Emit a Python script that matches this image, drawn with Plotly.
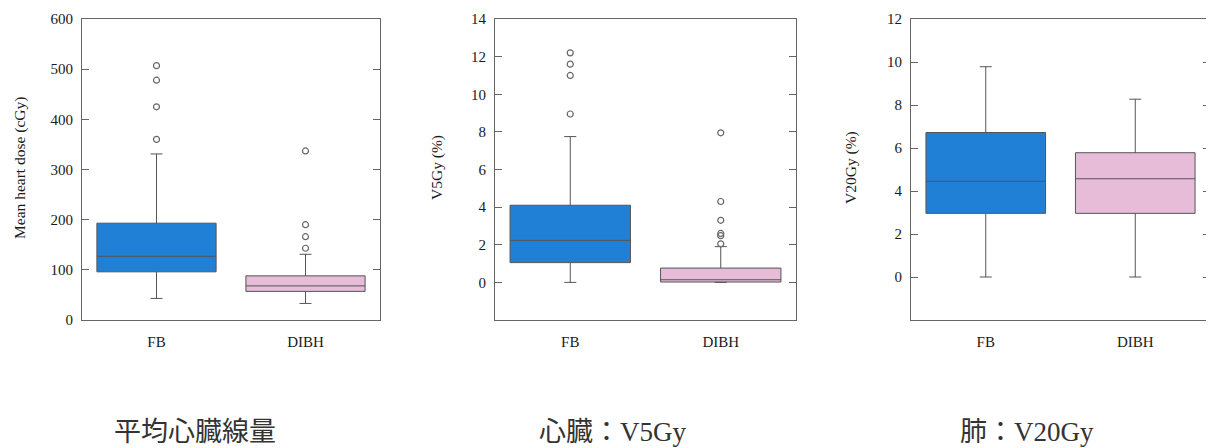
import plotly.graph_objects as go

# page body has 8px default margin; figure drawn inside it
OFF = 8
W, H = 1214 - OFF, 448 - OFF

categories = ["FB", "DIBH"]

# Panel 1: Mean heart dose (cGy)
mhd_q1 = [96, 57]
mhd_median = [127, 68]
mhd_q3 = [193, 88]
mhd_low = [43, 33]
mhd_up = [331, 131]
mhd_out_fb = [507, 478, 425, 360]
mhd_out_dibh = [337, 190, 166, 143]

# Panel 2: Heart V5Gy (%)
v5_q1 = [1.05, 0.02]
v5_median = [2.23, 0.14]
v5_q3 = [4.1, 0.76]
v5_low = [0.0, 0.0]
v5_up = [7.75, 1.9]
v5_out_fb = [12.2, 11.6, 11.0, 8.95]
v5_out_dibh = [7.95, 4.3, 3.3, 2.6, 2.48, 2.05]

# Panel 3: Lung V20Gy (%)
v20_q1 = [2.96, 2.96]
v20_median = [4.45, 4.57]
v20_q3 = [6.72, 5.78]
v20_low = [0.0, 0.0]
v20_up = [9.78, 8.27]

fills = ["#1f80d6", "#e6bcd8"]
ytitles = ["Mean heart dose (cGy)", "V5Gy (%)", "V20Gy (%)"]
captions = ["平均心臓線量", "心臓：V5Gy", "肺：V20Gy"]
yranges = [[0, 600], [-2, 14], [-2, 12]]
ytickvals = [[0, 100, 200, 300, 400, 500, 600],
             [0, 2, 4, 6, 8, 10, 12, 14],
             [0, 2, 4, 6, 8, 10, 12]]

panels = [
    (mhd_q1, mhd_median, mhd_q3, mhd_low, mhd_up, [mhd_out_fb, mhd_out_dibh]),
    (v5_q1, v5_median, v5_q3, v5_low, v5_up, [v5_out_fb, v5_out_dibh]),
    (v20_q1, v20_median, v20_q3, v20_low, v20_up, [[], []]),
]

# target pixel positions in the window
xpix = [(82, 380), (495, 796), (911, 1210)]
ypix = (19, 320)
title_x = [20, 437, 851]
cap_x = [195, 612, 1027]


def px(x):
    return (x - OFF) / W


def py(y):
    return 1 - (y - OFF) / H


fig = go.Figure()
serif = "Liberation Serif, Times New Roman, serif"

for p, (q1, med, q3, lo, up, outs) in enumerate(panels):
    ax = "" if p == 0 else str(p + 1)
    for i, cat in enumerate(categories):
        fig.add_trace(go.Box(
            x=[cat], q1=[q1[i]], median=[med[i]], q3=[q3[i]],
            lowerfence=[lo[i]], upperfence=[up[i]],
            fillcolor=fills[i], line=dict(color="#555555", width=1),
            whiskerwidth=0.1, width=0.8, boxpoints=False,
            xaxis="x" + ax, yaxis="y" + ax, showlegend=False,
        ))
        if outs[i]:
            fig.add_trace(go.Scatter(
                x=[cat] * len(outs[i]), y=outs[i], mode="markers",
                marker=dict(symbol="circle-open", size=6, color="#666666",
                            line=dict(width=1.2)),
                xaxis="x" + ax, yaxis="y" + ax, showlegend=False,
            ))
    x0, x1 = xpix[p]
    fig.layout["xaxis" + ax] = dict(
        domain=[px(x0), px(x1)], anchor="y" + ax, automargin=False,
        type="category", categoryorder="array", categoryarray=categories,
        range=[-0.5, 1.5], showline=True, mirror=True, linecolor="#666666",
        linewidth=1, ticks="", showgrid=False, zeroline=False,
        ticklabelstandoff=8,
        tickfont=dict(family=serif, size=15, color="#1a1a1a"),
    )
    fig.layout["yaxis" + ax] = dict(
        domain=[py(ypix[1]), py(ypix[0])], anchor="x" + ax, automargin=False,
        range=yranges[p], tickvals=ytickvals[p], showline=True,
        mirror="ticks", linecolor="#666666", linewidth=1, ticks="inside",
        ticklen=7, tickcolor="#666666", showgrid=False, zeroline=False,
        ticklabelstandoff=5,
        tickfont=dict(family=serif, size=15, color="#1a1a1a"),
    )
    fig.add_annotation(
        text=ytitles[p], x=px(title_x[p]), y=py(168), xref="paper",
        yref="paper", textangle=-90, showarrow=False,
        xanchor="center", yanchor="middle",
        font=dict(family=serif, size=15.5, color="#1a1a1a"),
    )
    fig.add_annotation(
        text=captions[p], x=px(cap_x[p]), y=py(432), xref="paper",
        yref="paper", showarrow=False, xanchor="center", yanchor="middle",
        font=dict(family="Liberation Serif, Noto Sans CJK JP", size=27,
                  color="#333333"),
    )

fig.update_layout(
    width=W, height=H, margin=dict(l=0, r=0, t=0, b=0),
    paper_bgcolor="white", plot_bgcolor="white", boxmode="overlay",
)
fig.write_html("out.html")
